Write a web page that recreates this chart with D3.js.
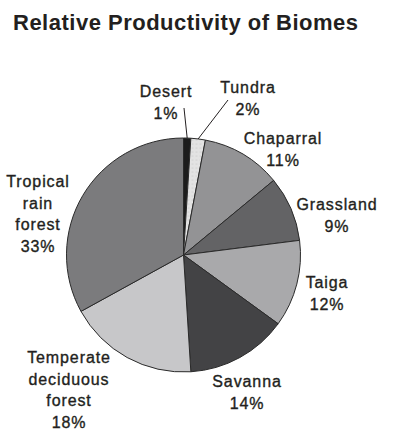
<!DOCTYPE html>
<html>
<head>
<meta charset="utf-8">
<script src="https://cdn.jsdelivr.net/npm/d3@7"></script>
<style>
  html, body { margin: 0; padding: 0; background: #fff; }
  svg text { font-family: "Liberation Sans", Arial, Helvetica, sans-serif; fill: #231f20; }
</style>
</head>
<body>
<svg id="chart" width="397" height="446"></svg>
<script>
// data (percent of total productivity)
const biomes = ["Desert", "Tundra", "Chaparral", "Grassland", "Taiga", "Savanna", "Temperate deciduous forest", "Tropical rain forest"];
const shares = [1, 2, 11, 9, 12, 14, 18, 33];
const labelLines = [
    ["Desert"], ["Tundra"], ["Chaparral"], ["Grassland"], ["Taiga"], ["Savanna"],
    ["Temperate", "deciduous", "forest"], ["Tropical", "rain", "forest"]
];
const fills = ["#1c1c1c", "#e3e3e3", "#939395", "#636365", "#a9a9ab", "#434345", "#c7c7c9", "#7b7b7d"];

const svg = d3.select("#chart");
const cx = 183.5, cy = 255, r = 117;

// where each label block sits (center x, first baseline)
const labelPos = {
    "Desert": [166, 97],
    "Tundra": [248, 93],
    "Chaparral": [283, 144],
    "Grassland": [337, 210],
    "Taiga": [327, 288],
    "Savanna": [247, 387],
    "Temperate deciduous forest": [69, 363],
    "Tropical rain forest": [38, 187]
};
// leader line start points for the thin slices
const leaderFrom = { "Desert": [184, 108], "Tundra": [228, 100] };

svg.append("text")
    .attr("x", 13).attr("y", 30)
    .attr("font-size", 22).attr("font-weight", "bold")
    .attr("letter-spacing", 0.5)
    .text("Relative Productivity of Biomes");

// stipple for the tundra slice
const defs = svg.append("defs");
const pat = defs.append("pattern")
    .attr("id", "dots").attr("width", 4).attr("height", 4)
    .attr("patternUnits", "userSpaceOnUse");
pat.append("rect").attr("width", 4).attr("height", 4).attr("fill", fills[1]);
pat.append("circle").attr("cx", 1).attr("cy", 1).attr("r", 0.5).attr("fill", "#b5b5b5");

const data = biomes.map((name, i) => ({ name, value: shares[i], fill: fills[i], lines: labelLines[i] }));

const pie = d3.pie().value(d => d.value).sort(null);
const arc = d3.arc().innerRadius(0).outerRadius(r);
const rim = d3.arc().innerRadius(r).outerRadius(r);

const g = svg.append("g").attr("transform", `translate(${cx},${cy})`);
const arcs = pie(data);

g.selectAll("path")
    .data(arcs)
    .enter()
    .append("path")
    .attr("d", arc)
    .attr("fill", d => d.data.name === "Tundra" ? "url(#dots)" : d.data.fill)
    .attr("stroke", "#2a2a2a")
    .attr("stroke-width", 1)
    .attr("stroke-linejoin", "round");

// leader lines
arcs.filter(d => leaderFrom[d.data.name]).forEach(d => {
    const [ex, ey] = rim.centroid(d);
    const [sx, sy] = leaderFrom[d.data.name];
    svg.append("line")
        .attr("x1", sx).attr("y1", sy)
        .attr("x2", cx + ex).attr("y2", cy + ey)
        .attr("stroke", "#231f20").attr("stroke-width", 1);
});

// labels
const lineH = 21.7;
arcs.forEach(d => {
    const [x, y] = labelPos[d.data.name];
    const t = svg.append("text")
        .attr("text-anchor", "middle")
        .attr("font-size", 16)
        .attr("letter-spacing", 0.9)
        .attr("stroke", "#231f20")
        .attr("stroke-width", 0.35);
    d.data.lines.concat([d.data.value + "%"]).forEach((s, k) => {
        t.append("tspan").attr("x", x).attr("y", y + k * lineH).text(s);
    });
});
</script>
</body>
</html>
